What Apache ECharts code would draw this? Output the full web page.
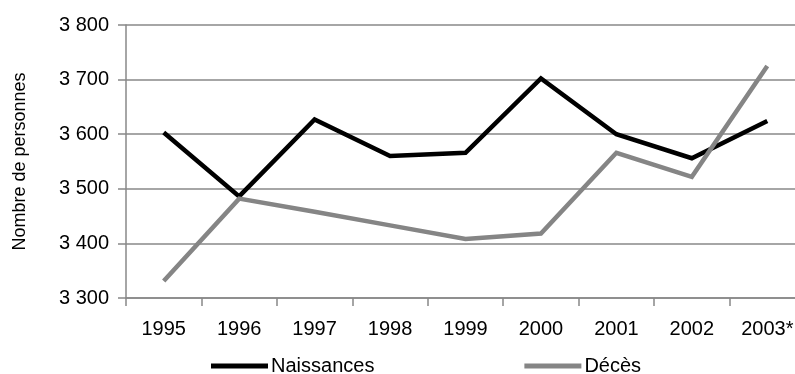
<!DOCTYPE html>
<html>
<head>
<meta charset="utf-8">
<script src="https://cdn.jsdelivr.net/npm/echarts@6/dist/echarts.min.js"></script>
<style>
  html, body { margin: 0; padding: 0; background: #fff; }
  #chart { width: 795px; height: 374px; }
</style>
</head>
<body>
<div id="chart"></div>
<script>
// Années (2003 provisoire)
const years = ['1995', '1996', '1997', '1998', '1999', '2000', '2001', '2002', '2003*'];
// Nombre de naissances et de décès par année
const naissances = [3603, 3486, 3627, 3560, 3566, 3702, 3600, 3556, 3624];
const deces = [3331, 3482, 3458, 3433, 3408, 3418, 3566, 3522, 3725];
// Graduations de l'axe vertical
const yMin = 3300, yMax = 3800, yStep = 100;

const FONT = '"Liberation Sans", Arial, sans-serif';
const GRID_GREY = '#888888';

// Séparateur de milliers à la française : "3 800"
const fmt = v => String(v).replace(/\B(?=(\d{3})+(?!\d))/g, ' ');

const chart = echarts.init(document.getElementById('chart'), null, { renderer: 'canvas' });
chart.setOption({
  animation: false,
  backgroundColor: '#ffffff',
  textStyle: { fontFamily: FONT, color: '#000' },
  grid: {
    left: 126, top: 25, width: 679, bottom: 76,
    containLabel: false,
    outerBoundsMode: 'none'
  },
  legend: {
    left: 206,
    top: 351,
    itemWidth: 57,
    itemHeight: 5,
    itemGap: 150,
    icon: 'rect',
    textStyle: { fontFamily: FONT, fontSize: 20, color: '#000', padding: [0, 0, 0, -2] },
    data: [
      { name: 'Naissances', itemStyle: { color: '#000000' } },
      { name: 'Décès', itemStyle: { color: '#858585' } }
    ]
  },
  xAxis: {
    type: 'category',
    data: years,
    boundaryGap: true,
    axisLine: { lineStyle: { color: GRID_GREY, width: 1.5 } },
    axisTick: { show: true, length: 8, lineStyle: { color: GRID_GREY, width: 1.5 } },
    axisLabel: { fontFamily: FONT, fontSize: 20, color: '#000', margin: 21 },
    splitLine: { show: false }
  },
  yAxis: {
    type: 'value',
    min: yMin,
    max: yMax,
    interval: yStep,
    name: 'Nombre de personnes',
    nameLocation: 'middle',
    nameGap: 97,
    nameRotate: 90,
    nameTextStyle: { fontFamily: FONT, fontSize: 18, color: '#000' },
    axisLine: { show: true, lineStyle: { color: GRID_GREY, width: 1.5 } },
    axisTick: { show: true, length: 8, lineStyle: { color: GRID_GREY, width: 1.5 } },
    axisLabel: { fontFamily: FONT, fontSize: 20, color: '#000', margin: 17, formatter: fmt },
    splitLine: { show: true, lineStyle: { color: GRID_GREY, width: 1.5 } }
  },
  series: [
    {
      name: 'Naissances',
      type: 'line',
      data: naissances,
      showSymbol: false,
      symbol: 'none',
      lineStyle: { color: '#000000', width: 4.5, cap: 'butt', join: 'miter' },
      itemStyle: { color: '#000000' },
      z: 3
    },
    {
      name: 'Décès',
      type: 'line',
      data: deces,
      showSymbol: false,
      symbol: 'none',
      lineStyle: { color: '#858585', width: 4.5, cap: 'butt', join: 'miter' },
      itemStyle: { color: '#858585' },
      z: 4
    }
  ]
});
</script>
</body>
</html>
